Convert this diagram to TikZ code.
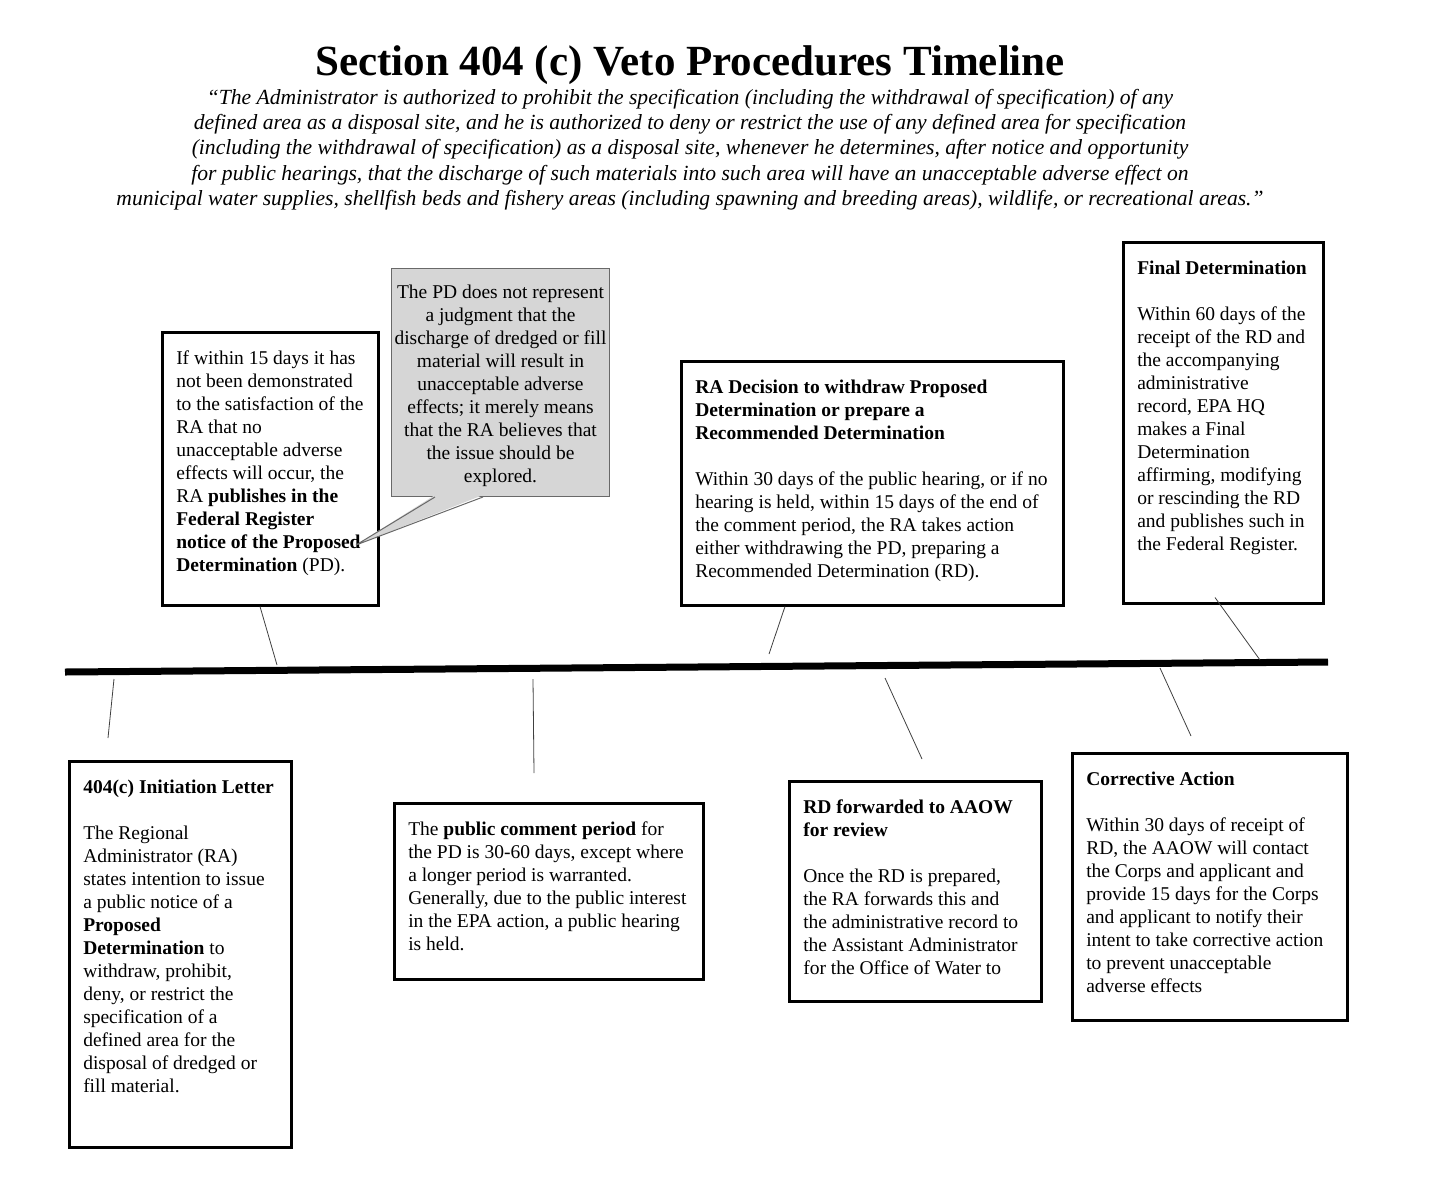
\documentclass[tikz,border=0pt]{standalone}
\usepackage{fontspec}
\setmainfont{Liberation Serif}
\usepackage{tikz}
\usetikzlibrary{calc}
\definecolor{calloutgray}{RGB}{214,214,214}
\definecolor{calloutedge}{RGB}{105,105,105}
\newcommand{\bodyfont}{\fontsize{19.5}{23}\selectfont}
\newcommand{\boxtext}[3]{\parbox[t][#2][t]{#1}{\raggedright\leftskip=14pt #3}}
\tikzset{
    stage/.style={draw, line width=2.5pt, anchor=north west, inner xsep=0pt, inner ysep=19pt, font=\bodyfont},
    note/.style={draw=calloutedge, fill=calloutgray, line width=1pt, anchor=north west, align=center, inner sep=0pt, font=\bodyfont},
    axis/.style={line width=7pt},
    tick/.style={line width=0.8pt, black!75}
}

\begin{document}
\begin{tikzpicture}[x=1pt, y=-1pt]
    \useasboundingbox (0,0) rectangle (1440,1200);

    \node[font=\fontsize{43}{50}\selectfont\bfseries, anchor=base, inner sep=0pt] (title) at (690,75)
        {Section 404 (c) Veto Procedures Timeline};
    \node[font=\fontsize{21.6}{25.2}\selectfont\itshape, align=center, anchor=north, inner sep=0pt] (quote) at (690,89)
        {“The Administrator is authorized to prohibit the specification (including the withdrawal of specification) of any\\
         defined area as a disposal site, and he is authorized to deny or restrict the use of any defined area for specification\\
         (including the withdrawal of specification) as a disposal site, whenever he determines, after notice and opportunity\\
         for public hearings, that the discharge of such materials into such area will have an unacceptable adverse effect on\\
         municipal water supplies, shellfish beds and fishery areas (including spawning and breeding areas), wildlife, or recreational areas.”};

    \coordinate (line-start) at (65,672);
    \coordinate (line-end) at (1328,662);
    \draw[axis] (line-start) -- (line-end);

    \node[stage] (propose) at (161,331) {\boxtext{216pt}{235pt}{%
        If within 15 days it has\\
        not been demonstrated\\
        to the satisfaction of the\\
        RA that no\\
        unacceptable adverse\\
        effects will occur, the\\
        RA \textbf{publishes in the\\
        Federal Register\\
        notice of the Proposed\\
        Determination} (PD).}};

    \node[note, minimum width=218pt, minimum height=228pt] (callout) at (391,268)
        {\rule{0pt}{19.6pt}The PD does not represent\\
         a judgment that the\\
         discharge of dredged or fill\\
         material will result in\\
         unacceptable adverse\\
         effects; it merely means\\
         that the RA believes that\\
         the issue should be\\
         explored.};
    \coordinate (note-left) at ($(callout.south west)+(44,0)$);
    \coordinate (note-right) at ($(callout.south west)+(92,0)$);
    \coordinate (note-tip) at (356,545);
    \fill[calloutgray] ($(note-left)+(0,-2)$) -- (note-tip) -- ($(note-right)+(0,-2)$) -- cycle;
    \draw[calloutedge, line width=1pt] (note-left) -- (note-tip) -- (note-right);

    \node[stage] (decision) at (680,360) {\boxtext{382pt}{206pt}{%
        \textbf{RA Decision to withdraw Proposed\\
        Determination or prepare a\\
        Recommended Determination}\\[23pt]
        Within 30 days of the public hearing, or if no\\
        hearing is held, within 15 days of the end of\\
        the comment period, the RA takes action\\
        either withdrawing the PD, preparing a\\
        Recommended Determination (RD).}};

    \node[stage] (final) at (1122,241) {\boxtext{200pt}{323pt}{%
        \textbf{Final Determination}\\[23pt]
        Within 60 days of the\\
        receipt of the RD and\\
        the accompanying\\
        administrative\\
        record, EPA HQ\\
        makes a Final\\
        Determination\\
        affirming, modifying\\
        or rescinding the RD\\
        and publishes such in\\
        the Federal Register.}};

    \node[stage] (initiation) at (68,760) {\boxtext{222pt}{348pt}{%
        \textbf{404(c) Initiation Letter}\\[23pt]
        The Regional\\
        Administrator (RA)\\
        states intention to issue\\
        a public notice of a\\
        \textbf{Proposed\\
        Determination} to\\
        withdraw, prohibit,\\
        deny, or restrict the\\
        specification of a\\
        defined area for the\\
        disposal of dredged or\\
        fill material.}};

    \node[stage] (comment) at (393,802) {\boxtext{309pt}{138pt}{%
        The \textbf{public comment period} for\\
        the PD is 30-60 days, except where\\
        a longer period is warranted.\\
        Generally, due to the public interest\\
        in the EPA action, a public hearing\\
        is held.}};

    \node[stage] (forward) at (788,780) {\boxtext{252pt}{182pt}{%
        \textbf{RD forwarded to AAOW\\
        for review}\\[23pt]
        Once the RD is prepared,\\
        the RA forwards this and\\
        the administrative record to\\
        the Assistant Administrator\\
        for the Office of Water to}};

    \node[stage] (corrective) at (1071,752) {\boxtext{275pt}{229pt}{%
        \textbf{Corrective Action}\\[23pt]
        Within 30 days of receipt of\\
        RD, the AAOW will contact\\
        the Corps and applicant and\\
        provide 15 days for the Corps\\
        and applicant to notify their\\
        intent to take corrective action\\
        to prevent unacceptable\\
        adverse effects}};

    \coordinate (propose-mark) at (277,665);
    \coordinate (decision-mark) at (769,654);
    \coordinate (final-mark) at (1260,660);
    \coordinate (initiation-mark) at (114,679);
    \coordinate (comment-mark) at (533,679);
    \coordinate (forward-mark) at (885,678);
    \coordinate (corrective-mark) at (1160,668);

    \draw[tick] ($(propose.south west)+(99,0)$) -- (propose-mark);
    \draw[tick] ($(decision.south west)+(105,0)$) -- (decision-mark);
    \draw[tick] ($(final.south west)+(93,-7)$) -- (final-mark);
    \draw[tick] (initiation-mark) -- ($(initiation.north west)+(40,-22)$);
    \draw[tick] (comment-mark) -- ($(comment.north west)+(141,-29)$);
    \draw[tick] (forward-mark) -- ($(forward.north west)+(134,-21)$);
    \draw[tick] (corrective-mark) -- ($(corrective.north west)+(120,-16)$);
\end{tikzpicture}
\end{document}
